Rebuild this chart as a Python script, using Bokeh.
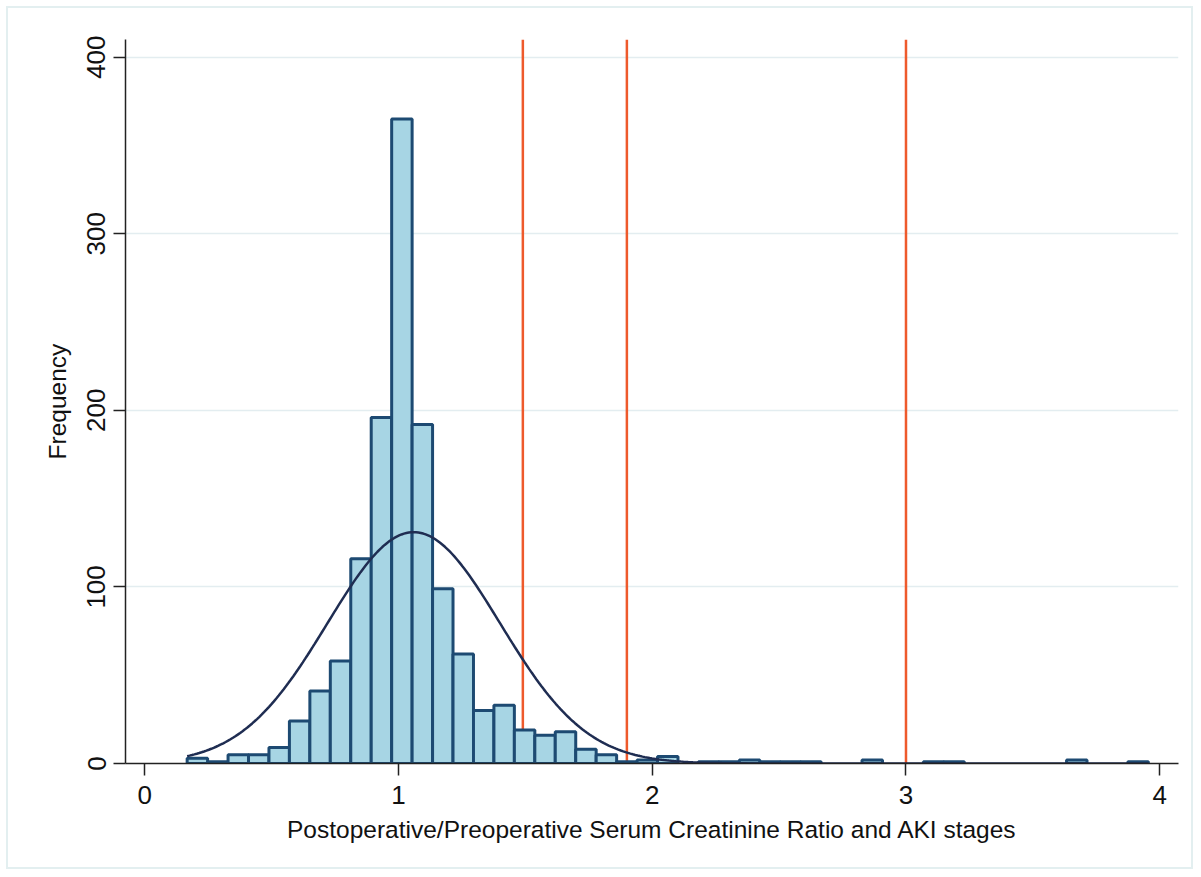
import numpy as np
from bokeh.plotting import figure
from bokeh.models import Span, FixedTicker, ColumnDataSource
from bokeh.embed import file_html
from bokeh.resources import INLINE

# ---- data ----
bin_start = 0.167
bin_width = 0.0806
counts = [3, 1, 5, 5, 9, 24, 41, 58, 116, 196, 365, 192, 99, 62, 30, 33, 19, 16,
          18, 8, 5, 1, 2, 4, 0, 1, 1, 2, 1, 1, 1, 0, 0, 2, 0, 0, 1, 1, 0, 0, 0, 0,
          0, 2, 0, 0, 1]
normal_mean = 1.06
normal_sd = 0.34
normal_peak = 131
aki_lines = [1.49, 1.9, 3.0]
x_ticks = [0, 1, 2, 3, 4]
y_ticks = [0, 100, 200, 300, 400]
x_title = "Postoperative/Preoperative Serum Creatinine Ratio and AKI stages"
y_title = "Frequency"

FONT = "Liberation Sans"

lefts = [bin_start + i * bin_width for i in range(len(counts))]
keep = [i for i, c in enumerate(counts) if c > 0]
src = ColumnDataSource(dict(
    left=[lefts[i] for i in keep],
    right=[lefts[i] + bin_width for i in keep],
    top=[counts[i] for i in keep],
    bottom=[0] * len(keep),
))

x_lo = bin_start
x_hi = bin_start + bin_width * len(counts)
xs = np.linspace(x_lo, x_hi, 400)
ys = normal_peak * np.exp(-((xs - normal_mean) ** 2) / (2 * normal_sd ** 2))

p = figure(width=1187, height=863, output_backend="svg", toolbar_location=None,
           x_range=(-0.076, 4.074), y_range=(0, 410),
           min_border_left=117, min_border_top=31, min_border_right=17,
           min_border_bottom=108, background_fill_color="white",
           border_fill_color="white", outline_line_color=None)
p.margin = (6, 0, 0, 6)
p.styles = {"border": "2px solid #e3eff0"}

for loc in aki_lines:
    p.add_layout(Span(location=loc, dimension="height", line_color="#ee5a2c",
                      line_width=2.5, level="underlay"))

p.quad(left="left", right="right", top="top", bottom="bottom", source=src,
       fill_color="#a7d5e4", line_color="#1d4a72", line_width=3)
p.line(xs, ys, line_color="#1f2d52", line_width=2.5)

p.xgrid.visible = False
p.ygrid.ticker = FixedTicker(ticks=y_ticks)
p.ygrid.grid_line_color = "#e3edf0"
p.ygrid.grid_line_width = 1.5

p.xaxis.ticker = FixedTicker(ticks=x_ticks)
p.yaxis.ticker = FixedTicker(ticks=y_ticks)
for ax in (p.xaxis[0], p.yaxis[0]):
    ax.axis_line_color = "#222222"
    ax.axis_line_width = 1.5
    ax.major_tick_line_color = "#222222"
    ax.major_tick_line_width = 1.5
    ax.major_tick_out = 12
    ax.major_tick_in = 0
    ax.minor_tick_line_color = None
    ax.major_label_text_font = FONT
    ax.major_label_text_font_size = "26px"
    ax.major_label_text_color = "#111111"
    ax.axis_label_text_font = FONT
    ax.axis_label_text_font_size = "24.5px"
    ax.axis_label_text_font_style = "normal"
    ax.axis_label_text_color = "#111111"

p.xaxis.axis_label = x_title
p.yaxis.axis_label = y_title
p.yaxis.major_label_orientation = "vertical"
p.xaxis.major_label_standoff = 10
p.yaxis.major_label_standoff = 8
p.xaxis.axis_label_standoff = 9
p.yaxis.axis_label_standoff = 14

open("out.html", "w").write(file_html(p, INLINE))
